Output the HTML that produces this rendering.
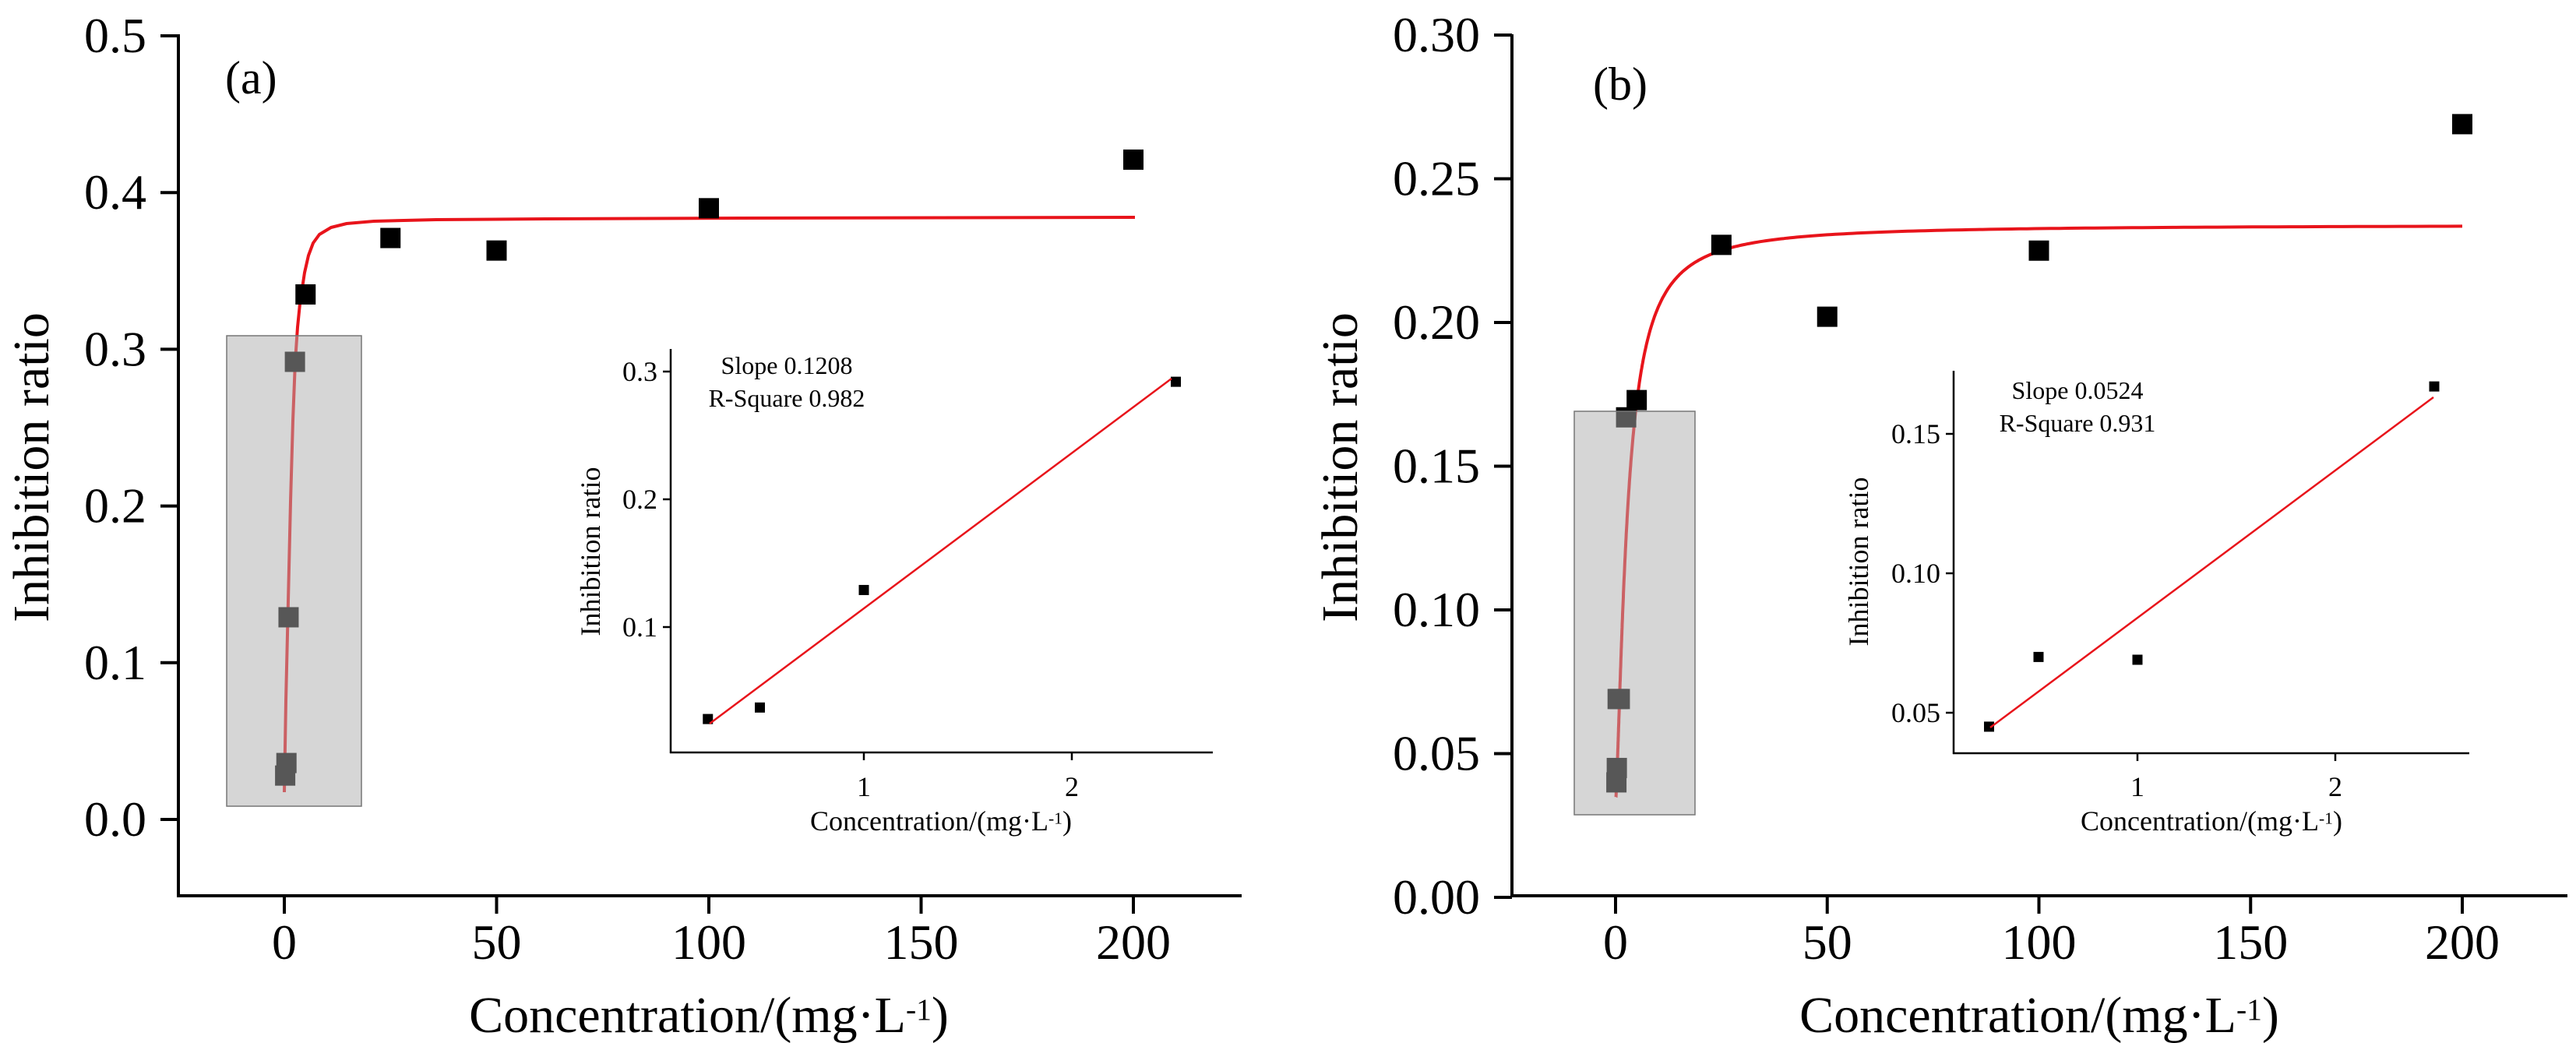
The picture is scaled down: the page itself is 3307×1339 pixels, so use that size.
<!DOCTYPE html>
<html><head><meta charset="utf-8"><style>
html,body{margin:0;padding:0;background:#fff;}
svg{display:block;}
text{font-family:"Liberation Serif",serif;fill:#000;}
</style></head><body>
<svg id="s" width="3307" height="1339" viewBox="0 0 3307 1339" xmlns="http://www.w3.org/2000/svg">
<text x="289" y="120" font-size="60">(a)</text>
<text x="2045" y="128" font-size="60">(b)</text>
</svg>
<script>
var s=document.getElementById('s'),h='';
function L(x1,y1,x2,y2,w,c){h+='<line x1="'+x1+'" y1="'+y1+'" x2="'+x2+'" y2="'+y2+'" stroke="'+(c||'#000')+'" stroke-width="'+w+'"/>';}
function T(x,y,t,fs,a,extra){h+='<text x="'+x+'" y="'+y+'" font-size="'+fs+'" text-anchor="'+(a||'middle')+'" '+(extra||'')+'>'+t+'</text>';}
function SQ(x,y,sz,c){h+='<rect x="'+(x-sz/2)+'" y="'+(y-sz/2)+'" width="'+sz+'" height="'+sz+'" fill="'+(c||'#000')+'"/>';}
function PL(pts,w,c){h+='<polyline fill="none" stroke="'+c+'" stroke-width="'+w+'" stroke-linejoin="round" points="'+pts.map(function(p){return p[0].toFixed(1)+','+p[1].toFixed(1)}).join(' ')+'"/>';}
var title='Concentration/(mg·L<tspan dy="-0.4em" font-size="0.6em">-1</tspan><tspan dy="0.24em">)</tspan>';
function panel(o){
  var X=function(c){return o.x0+o.kx*c}, Y=function(v){return o.y0-o.ky*v};
  var pts;
  if(o.trace){pts=o.trace;}else{pts=[];for(var i=0;i<=400;i++){var c=o.cmin*Math.pow(200/o.cmin,i/400);pts.push([X(c),Y(o.f(c))]);}}
  PL(pts,4,'#e8141b');
  o.pts.forEach(function(p){SQ(X(p[0]),Y(p[1]),26);});
  h+='<rect x="'+o.rect[0]+'" y="'+o.rect[1]+'" width="'+(o.rect[2]-o.rect[0])+'" height="'+(o.rect[3]-o.rect[1])+'" fill="rgb(173,173,173)" fill-opacity="0.5" stroke="#777" stroke-width="1.5"/>';
  L(o.ax,o.top,o.ax,o.xy+2,4);L(o.ax-2,o.xy,o.xend,o.xy,4);
  o.yt.forEach(function(t){var y=Y(t);L(o.ax-23,y,o.ax,y,4);T(o.ax-41,y+21,t.toFixed(o.dec),64,'end');});
  [0,50,100,150,200].forEach(function(c){var x=X(c);L(x,o.xy,x,o.xy+23,4);T(x,1231,c,64);});
  T(o.tx,1325,title,66);
  h+='<text x="0" y="0" font-size="66" text-anchor="middle" transform="translate('+o.yx+',600) rotate(-90)">Inhibition ratio</text>';
  var n=o.in, IX=function(c){return n.x0+n.kx*c}, IY=function(v){return n.y0-n.ky*v};
  L(n.ax,n.top,n.ax,n.bot+1,2.5);L(n.ax-1,n.bot,n.xend,n.bot,2.5);
  n.yt.forEach(function(t){var y=IY(t);L(n.ax-10,y,n.ax,y,2.5);T(n.ax-17,y+12,t.toFixed(n.dec),36,'end');});
  [1,2].forEach(function(c){var x=IX(c);L(x,n.bot,x,n.bot+10,2.5);T(x,1022,c,36);});
  n.pts.forEach(function(p){SQ(IX(p[0]),IY(p[1]),13);});
  L(n.l[0],n.l[1],n.l[2],n.l[3],2.5,'#e8141b');
  T(n.tx,1066,title,36);
  h+='<text x="0" y="0" font-size="36" text-anchor="middle" transform="translate('+(n.yx)+','+n.yy+') rotate(-90)">Inhibition ratio</text>';
  T(n.sx,n.sy,n.s1,32);T(n.sx,n.sy+42,n.s2,32);
}
panel({x0:365,kx:5.45,y0:1052,ky:2012,
 trace:[[365,1017],[367,900],[370,772],[373,644],[376,540],[379,464],[382,420],[385,390],[388,370],[391,350],[396,328],[402,312],[410,301],[425,292],[445,287],[480,284],[560,282],[700,281],[950,280],[1457,279]],
 pts:[[0.2,0.028],[0.5,0.036],[1,0.129],[2.5,0.292],[5,0.335],[25,0.371],[50,0.363],[100,0.390],[200,0.421]],
 rect:[291,431,464,1035],ax:229,top:44,xy:1150,xend:1594,yt:[0.5,0.4,0.3,0.2,0.1,0.0],dec:1,tx:910,yx:62,
 in:{x0:842,kx:267,y0:969,ky:1640,ax:861,top:448,bot:966,xend:1557,yt:[0.3,0.2,0.1],dec:1,
  pts:[[0.25,0.028],[0.5,0.037],[1,0.129],[2.5,0.292]],l:[911,929,1504,486],tx:1208,yx:770,yy:708,sx:1010,sy:480,s1:'Slope 0.1208',s2:'R-Square 0.982'}});
panel({x0:2074,kx:5.435,y0:1152,ky:3690,cmin:0.1,f:function(c){var q=Math.pow(c/2.8,1.4);return 0.033+0.201*q/(1+q)},
 pts:[[0.2,0.040],[0.3,0.045],[0.5,0.069],[1,0.069],[2.5,0.167],[5,0.173],[25,0.227],[50,0.202],[100,0.225],[200,0.269]],
 rect:[2021,528,2176,1046],ax:1941,top:44,xy:1150,xend:3296,yt:[0.30,0.25,0.20,0.15,0.10,0.05,0.00],dec:2,tx:2618,yx:1742,
 in:{x0:2490,kx:254,y0:1094,ky:3580,ax:2508,top:476,bot:967,xend:3170,yt:[0.15,0.10,0.05],dec:2,
  pts:[[0.25,0.045],[0.5,0.070],[1,0.069],[2.5,0.167]],l:[2555,934,3124,510],tx:2839,yx:2398,yy:721,sx:2667,sy:512,s1:'Slope 0.0524',s2:'R-Square 0.931'}});
s.insertAdjacentHTML('beforeend',h);
</script>
</body></html>
